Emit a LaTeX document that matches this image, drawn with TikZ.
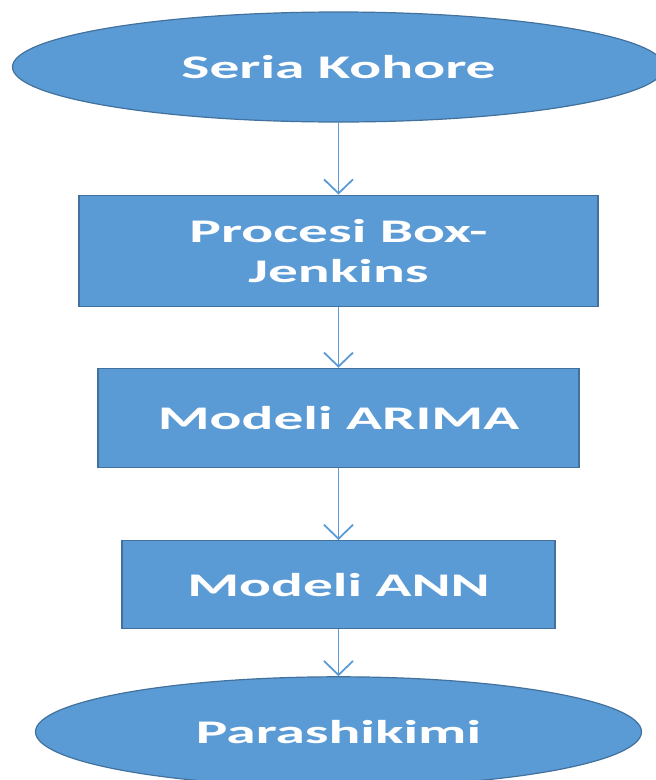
\documentclass[tikz,border=0pt]{standalone}
\usepackage{fontspec}
\setmainfont[FakeStretch=1.8]{Carlito}
\usetikzlibrary{arrows.meta,positioning,shapes.geometric}
\definecolor{flowFill}{HTML}{5B9BD5}
\definecolor{flowEdge}{HTML}{41719C}
\tikzset{
  flow/base/.style={draw=flowEdge, fill=flowFill, line width=1.2pt,
    text=white, align=center, inner sep=0pt,
    font=\fontsize{33}{40}\selectfont\bfseries},
  flow/terminal/.style={flow/base, ellipse},
  flow/process/.style={flow/base, rectangle},
  flow/arrow/.style={-{Straight Barb[length=14pt,width=29pt]}, draw=flowFill,
    line width=1.8pt},
}

\begin{document}
\begin{tikzpicture}[x=1pt, y=1pt, node distance=72pt]
\useasboundingbox (0,0) rectangle (656,-780);
\node[flow/terminal, minimum width=652pt, minimum height=110pt] (series) at (338.5,-67) {Seria Kohore};
\node[flow/process, minimum width=519pt, minimum height=111pt, below=of series] (boxjenkins) {Procesi Box-\\Jenkins};
\node[flow/process, minimum width=481pt, minimum height=99pt, below=61pt of boxjenkins] (arima) {Modeli ARIMA};
\node[flow/process, minimum width=433pt, minimum height=88pt, below=of arima] (ann) {Modeli ANN};
\node[flow/terminal, minimum width=606pt, minimum height=110pt, below=47pt of ann] (forecast) {Parashikimi};
\draw[flow/arrow] (series) -- (boxjenkins);
\draw[flow/arrow] (boxjenkins) -- (arima);
\draw[flow/arrow] (arima) -- (ann);
\draw[flow/arrow] (ann) -- (forecast);
\end{tikzpicture}
\end{document}
